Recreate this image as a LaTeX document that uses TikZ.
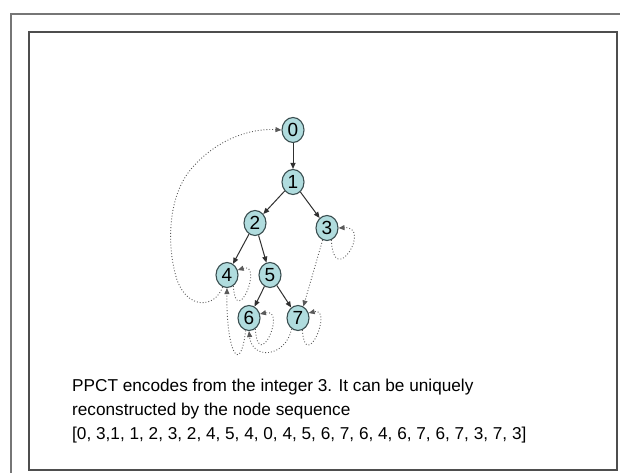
\documentclass[tikz,border=0pt]{standalone}
\usepackage{fontspec}
\setmainfont{Liberation Sans}
\usetikzlibrary{arrows.meta,shapes.geometric}

\definecolor{nodefill}{RGB}{176,220,222}
\definecolor{nodeline}{RGB}{58,78,80}
\definecolor{edgecol}{RGB}{48,48,48}
\definecolor{dotcol}{RGB}{90,90,90}
\definecolor{framecol}{RGB}{118,118,118}
\definecolor{innerframe}{RGB}{78,78,78}

\tikzset{
  treenode/.style={ellipse, draw=nodeline, fill=nodefill, line width=1.1pt,
    minimum width=22pt, minimum height=25pt, inner sep=0pt,
    font=\fontsize{19}{19}\selectfont},
  treeedge/.style={draw=edgecol, line width=1pt,
    -{Triangle[length=6pt,width=5pt]}},
  walkedge/.style={draw=dotcol, line width=0.9pt, dotted,
    -{Triangle[length=6pt,width=5pt]}},
  caption/.style={anchor=base west, inner sep=0pt, text=black,
    font=\fontsize{17.2}{24}\selectfont}
}

\begin{document}
\begin{tikzpicture}[x=1pt,y=-1pt]
  \useasboundingbox (0,0) rectangle (620,473);
  \fill[white] (0,0) rectangle (620,473);

  % slide frames
  \draw[framecol, line width=1.5pt] (11,473) -- (11,14) -- (620,14);
  \draw[innerframe, line width=1.5pt] (29,32) rectangle (617,470);

  % tree nodes
  \node[treenode] (n0) at (293,130) {0};
  \node[treenode] (n1) at (293,182) {1};
  \node[treenode] (n2) at (255,223) {2};
  \node[treenode] (n3) at (327,228) {3};
  \node[treenode] (n4) at (227,275) {4};
  \node[treenode] (n5) at (270,275) {5};
  \node[treenode] (n6) at (249,318) {6};
  \node[treenode] (n7) at (298,318) {7};

  % tree edges
  \draw[treeedge] (n0) -- (n1);
  \draw[treeedge] (n1) -- (n2);
  \draw[treeedge] (n1) -- (n3);
  \draw[treeedge] (n2) -- (n4);
  \draw[treeedge] (n2) -- (n5);
  \draw[treeedge] (n5) -- (n6);
  \draw[treeedge] (n5) -- (n7);

  % walk edges
  \draw[walkedge] (n4.250) .. controls (215,308) and (188,310) .. (177,280)
    .. controls (166,245) and (168,195) .. (192,168)
    .. controls (216,140) and (250,128) .. (n0.west);
  \draw[walkedge] (n3.250) -- (n7.65);
  \draw[walkedge] (n6.255) .. controls (240,378) and (226,350) .. (n4.south);
  \draw[walkedge] (n7.240) .. controls (285,358) and (252,360) .. (n6.south);

  % self loops
  \draw[walkedge] (n3.290) .. controls +(2,50) and +(34,-2) .. (n3.east);
  \draw[walkedge] (n4.300) .. controls +(3,44) and +(26,-8) .. (n4.25);
  \draw[walkedge] (n6.300) .. controls +(3,45) and +(27,-6) .. (n6.20);
  \draw[walkedge] (n7.290) .. controls +(3,44) and +(25,-6) .. (n7.25);

  % caption
  \node[caption] (t1) at (72,391) {PPCT encodes from the integer 3. It can be uniquely};
  \node[caption] (t2) at (72,415) {reconstructed by the node sequence};
  \node[caption] (t3) at (72,439) {[0, 3,1, 1, 2, 3, 2, 4, 5, 4, 0, 4, 5, 6, 7, 6, 4, 6, 7, 6, 7, 3, 7, 3]};
\end{tikzpicture}
\end{document}
